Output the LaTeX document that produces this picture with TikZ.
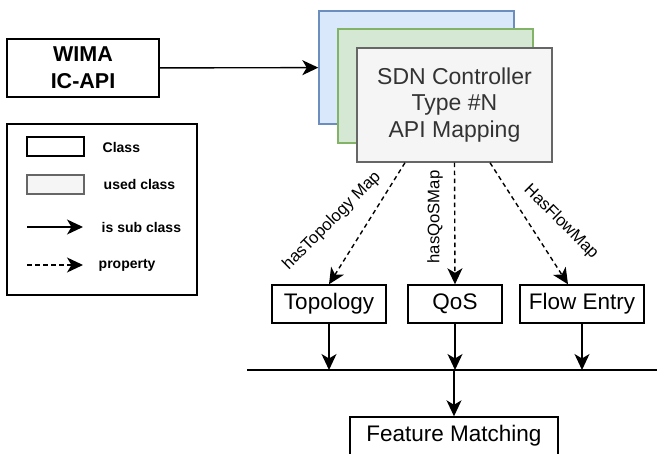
\documentclass[tikz,border=0pt]{standalone}
\usepackage{fontspec}
\setmainfont{Liberation Sans}
\usetikzlibrary{arrows.meta}
\definecolor{bluefill}{HTML}{DAE8FC}
\definecolor{blueline}{HTML}{6C8EBF}
\definecolor{greenfill}{HTML}{D5E8D4}
\definecolor{greenline}{HTML}{82B366}
\definecolor{grayfill}{HTML}{F5F5F5}
\definecolor{grayline}{HTML}{666666}
\definecolor{graytext}{HTML}{333333}
\begin{document}
\begin{tikzpicture}[x=1pt,y=-1pt,line width=1.4pt,
  cls/.style={draw=black,fill=white,inner sep=0pt,align=center,font=\fontsize{22.5}{26}\selectfont},
  usedcls/.style={draw=grayline,fill=grayfill,text=graytext,inner sep=0pt,align=center,font=\fontsize{23}{26.5}\selectfont},
  legtext/.style={anchor=west,inner sep=0pt,font=\fontsize{14}{16}\selectfont\bfseries},
  maplabel/.style={inner sep=0pt,font=\fontsize{16.7}{19}\selectfont},
  sub/.style={-{Stealth[length=16pt,width=15pt,inset=4.5pt]}},
  prop/.style={sub,dash pattern=on 4.5pt off 3.5pt}]
\useasboundingbox (0,0) rectangle (657,454);
\clip (0,0) rectangle (657,454);

% Interface
\node[cls,minimum width=152pt,minimum height=58pt,font=\fontsize{21.5}{27}\selectfont\bfseries] (wima) at (83,68) {WIMA\\IC-API};

% Controller stack
\node[draw=blueline,fill=bluefill,minimum width=195pt,minimum height=113pt] (ctrl1) at (416.5,67.5) {};
\node[draw=greenline,fill=greenfill,minimum width=195pt,minimum height=114pt] (ctrl2) at (435.5,86) {};
\node[usedcls,minimum width=195pt,minimum height=114pt] (sdn) at (454.5,105) {SDN Controller\\Type \#N\\API Mapping};
\draw[sub] (wima) -- (ctrl1);

% Maps
\node[cls,minimum width=114pt,minimum height=38pt] (topo) at (329,304) {Topology};
\node[cls,minimum width=94pt,minimum height=38pt] (qos) at (455,304) {QoS};
\node[cls,minimum width=124pt,minimum height=38pt] (flow) at (582,304) {Flow Entry};

\draw[prop] ([xshift=-49.5pt]sdn.south) -- (topo.north);
\draw[prop] (sdn.south) -- (qos.north);
\draw[prop] ([xshift=35.5pt]sdn.south) -- ([xshift=-14pt]flow.north);

\node[maplabel,rotate=45] (ltopo) at (332,221) {hasTopology Map};
\node[maplabel,rotate=90] (lqos) at (435,217) {hasQoSMap};
\node[maplabel,rotate=-45] (lflow) at (561,222) {HasFlowMap};

% Bus and matching
\coordinate (busl) at (247,370);
\coordinate (busr) at (657,370);
\draw (busl) -- (busr);
\draw[sub] (topo.south) -- (topo.south |- busl);
\draw[sub] (qos.south) -- (qos.south |- busl);
\draw[sub] (flow.south) -- (flow.south |- busl);

\node[cls,minimum width=208pt,minimum height=38pt] (feat) at (454,436) {Feature Matching};
\draw[sub] (feat.north |- busl) -- (feat.north);

% Legend
\draw[line width=1.4pt] (7,124) rectangle (197,295);
\node[draw=black,minimum width=57pt,minimum height=19pt,inner sep=0pt] (kcls) at (55.5,146.5) {};
\node[draw=grayline,fill=grayfill,minimum width=57pt,minimum height=19pt,inner sep=0pt] (kused) at (55.5,184.5) {};
\coordinate (ksubA) at (27,227);
\coordinate (ksubB) at (83,227);
\coordinate (kpropA) at (27,265);
\coordinate (kpropB) at (83,265);
\draw[sub] (ksubA) -- (ksubB);
\draw[prop] (kpropA) -- (kpropB);
\node[legtext] (tcls) at (102,147) {Class};
\node[legtext] (tused) at (103,184) {used class};
\node[legtext] (tsub) at (101,227) {is sub class};
\node[legtext] (tprop) at (98,265) {property};
\end{tikzpicture}
\end{document}
